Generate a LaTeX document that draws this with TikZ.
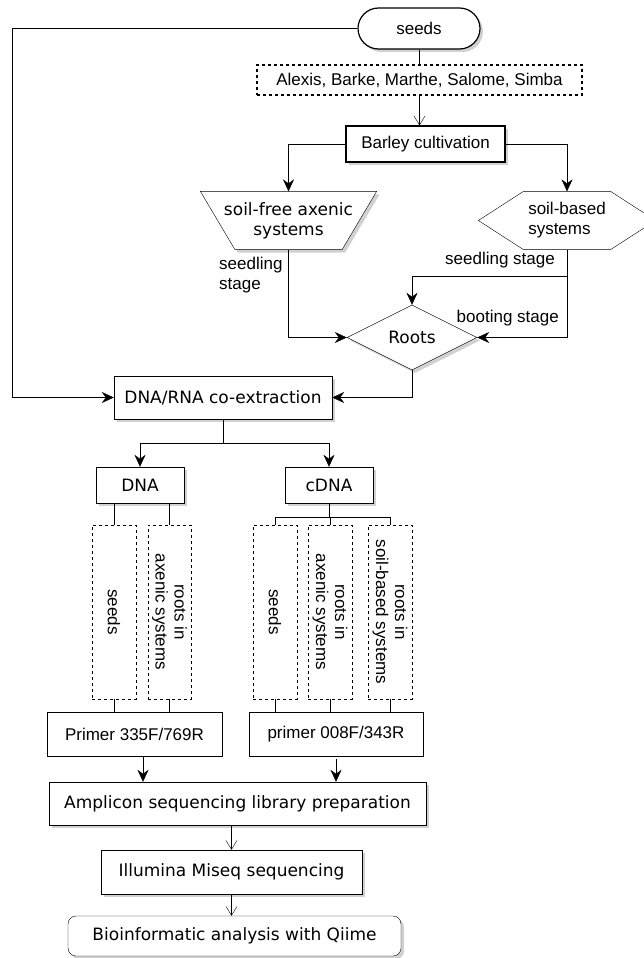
\documentclass[tikz,border=0pt]{standalone}
\usepackage{fontspec}
\setmainfont{Liberation Sans}
\newfontfamily\dejavu{DejaVu Sans}
\usetikzlibrary{arrows.meta,shapes.geometric,shadows,calc}
\pgfdeclarelayer{bg}
\pgfsetlayers{bg,main}
\begin{document}
\begin{tikzpicture}[x=1pt,y=-1pt,line width=1.2pt,
  af/.style={font=\fontsize{17}{20}\selectfont},
  df/.style={font=\dejavu\fontsize{17}{20}\selectfont},
  every node/.style={inner sep=0pt,align=center,af},
  shadowed/.style={drop shadow={shadow xshift=3pt,shadow yshift=-3pt,fill=black!18,opacity=1}},
  box/.style={draw,fill=white,shadowed},
  dbox/.style={draw,dash pattern=on 3pt off 3pt,minimum width=44pt,minimum height=174pt},
  vtext/.style={rotate=-90,font=\fontsize{17}{19}\selectfont},
  arr/.style={-{Stealth[length=12pt,width=11pt,inset=4pt]}},
  oarr/.style={-{Straight Barb[length=9pt,width=11pt]}}
]
\useasboundingbox (0,0) rectangle (644,958);

% top part
\node[box,rounded corners=20.5pt,minimum width=122pt,minimum height=41pt] (seeds) at (419,28.5) {seeds};
\node[draw,dash pattern=on 3pt off 3pt,minimum width=325pt,minimum height=30pt] (alexis) at (419.5,80) {Alexis, Barke, Marthe, Salome, Simba};
\node[box,minimum width=159pt,minimum height=36pt] (barley) at (425.5,144) {Barley cultivation};

\node[df,minimum width=175pt,minimum height=57pt] (axenic) at (288.5,220.5) {soil-free axenic\\systems};
\node[align=left,minimum width=176pt,minimum height=57pt] (soilb) at (567,220.5) {soil-based\\systems};
\begin{pgfonlayer}{bg}
\filldraw[fill=white,shadowed] (axenic.north west) -- (axenic.north east)
  -- ([xshift=-34.5pt]axenic.south east) -- ([xshift=34.5pt]axenic.south west) -- cycle;
\filldraw[fill=white] (soilb.west) -- ([xshift=45pt]soilb.north west) -- ([xshift=-45pt]soilb.north east)
  -- (soilb.east) -- ([xshift=-45pt]soilb.south east) -- ([xshift=45pt]soilb.south west) -- cycle;
\end{pgfonlayer}

\node[draw,fill=white,shadowed,diamond,aspect=2,minimum width=130pt,minimum height=65pt,df] (roots) at (412,337.5) {Roots};

\node[anchor=east] (lab1) at (555,260) {seedling stage};
\node[anchor=east] (lab2) at (559,318) {booting stage};
\node[anchor=north west,align=left] (lab3) at (219,257) {seedling\\stage};

\node[box,df,minimum width=218pt,minimum height=43pt] (dnarna) at (223,397.5) {DNA/RNA co-extraction};

\node[box,df,minimum width=88pt,minimum height=36pt] (dna) at (140,485) {DNA};
\node[box,df,minimum width=88pt,minimum height=36pt] (cdna) at (329,485) {cDNA};

% dashed vertical boxes
\node[dbox] (ds1) at (114,612) {};
\node[dbox,minimum width=43pt] (ds2) at (169.5,612) {};
\node[dbox] (cs1) at (275,612) {};
\node[dbox] (cs2) at (330,612) {};
\node[dbox] (cs3) at (390,612) {};
\node[vtext] (ds1t) at (ds1) {seeds};
\node[vtext] (ds2t) at (ds2) {roots in\\axenic systems};
\node[vtext] (cs1t) at (cs1) {seeds};
\node[vtext] (cs2t) at (cs2) {roots in\\axenic systems};
\node[vtext] (cs3t) at (cs3) {roots in\\soil-based systems};

\node[draw,fill=white,minimum width=175pt,minimum height=44pt] (p1) at (134.5,734) {Primer 335F/769R};
\node[draw,fill=white,minimum width=174pt,minimum height=44pt] (p2) at (336,734) {primer 008F/343R};

\node[box,df,minimum width=377pt,minimum height=43pt] (amp) at (237.5,803.5) {Amplicon sequencing library preparation};
\node[box,df,minimum width=261pt,minimum height=44pt] (illu) at (231.5,872) {Illumina Miseq sequencing};
\node[box,df,rounded corners=8pt,minimum width=333pt,minimum height=40pt] (bio) at (234.5,936) {Bioinformatic analysis with Qiime};

% connectors
\coordinate (L) at (12,0);
\draw[arr] (seeds.west) -- (seeds.west -| L) -- (dnarna.west -| L) -- (dnarna.west);
\draw (seeds.south) -- (seeds.south |- alexis.north);
\draw[oarr] (alexis.south) -- (alexis.south |- barley.north);
\draw[arr] (barley.west) -| (axenic.north);
\draw[arr] (barley.east) -| (soilb.north);
\draw[arr] (axenic.south) |- (roots.west);
\coordinate (sb) at ($(soilb.south)+(0,27)$);
\draw[arr] (soilb.south) -- (sb) -| (roots.north);
\draw[arr] (sb) |- (roots.east);
\draw[arr] (roots.south) |- (dnarna.east);
\coordinate (dr) at ($(dnarna.south)+(0,24)$);
\draw[arr] (dnarna.south) -- (dr) -| (dna.north);
\draw[arr] (dr) -| (cdna.north);

\draw (ds1.north) -- (ds1.north |- dna.south);
\draw (ds2.north) -- (ds2.north |- dna.south);
\coordinate (cb) at ($(cdna.south)+(0,14)$);
\draw (cdna.south) -- (cdna.south |- cb);
\draw (cs1.north) -- (cs1.north |- cb) -- (cs3.north |- cb) -- (cs3.north);
\draw (cs2.north) -- (cs2.north |- cb);

\draw (ds1.south) -- (ds1.south |- p1.north);
\draw (ds2.south) -- (ds2.south |- p1.north);
\draw (cs1.south) -- (cs1.south |- p2.north);
\draw (cs2.south) -- (cs2.south |- p2.north);
\draw (cs3.south) -- (cs3.south |- p2.north);

\draw[arr] ([xshift=8.5pt]p1.south) -- ([xshift=8.5pt]p1.south |- amp.north);
\draw[arr] ([yshift=-3pt]p2.south) -- (p2.south |- amp.north);
\draw[oarr] (amp.south -| illu.north) -- (illu.north);
\draw[oarr] (illu.south) -- (illu.south |- bio.north);
\end{tikzpicture}
\end{document}
